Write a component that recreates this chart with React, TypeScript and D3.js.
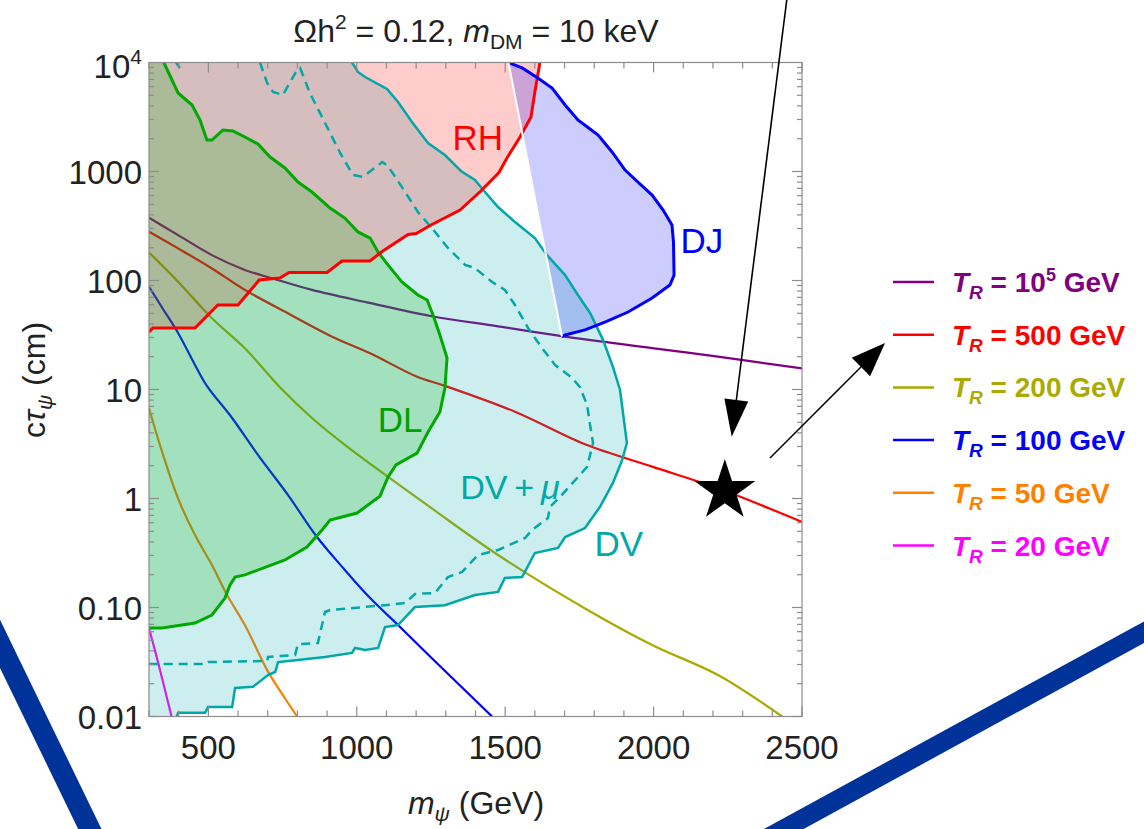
import React, { useEffect, useRef } from "react";
import * as d3 from "d3";

const W = 1144, H = 829;

// reheating temperature curves, [m_psi (GeV), c tau (cm)]
const trHigh = [[300, 377], [398, 261], [512, 171], [623, 125], [714, 105], [849, 82], [1034, 63], [1253, 47], [1476, 38], [1702, 30.5], [1995, 24], [2217, 20], [2500, 15.6]];
const tr500 = [[300, 280], [398, 197], [512, 129], [623, 82], [768, 50], [917, 30.5], [1045, 21.5], [1203, 13.1], [1297, 10.8], [1533, 6.25], [1769, 3.14], [1995, 1.96], [2217, 1.24], [2500, 0.61]];
const tr200 = [[300, 181], [398, 97.5], [512, 45], [623, 23.9], [741, 10.5], [849, 5.48], [960, 3.1], [1028, 2.25], [1253, 0.81], [1476, 0.303], [1769, 0.098], [1995, 0.0453], [2217, 0.024], [2433, 0.01]];
const tr100 = [[300, 87.7], [347, 54.8], [398, 33], [455, 16.8], [495, 10.8], [580, 5.48], [667, 2.51], [768, 1.08], [866, 0.443], [960, 0.221], [1045, 0.122], [1139, 0.069], [1253, 0.0342], [1456, 0.01]];
const tr50 = [[300, 6.72], [344, 2.69], [398, 1.0], [455, 0.462], [512, 0.245], [563, 0.13], [623, 0.069], [701, 0.0258], [758, 0.0147], [799, 0.01]];
const tr20 = [[300, 0.0644], [330, 0.0318], [376, 0.01]];

const legendValues = ["10^5", "500", "200", "100", "50", "20"];
const legendColors = ["#800080", "#ff0000", "#aaaa00", "#0000ff", "#ff8000", "#ff00ff"];

// excluded / sensitivity regions
const dvEdge = [[984, 1e4], [1004, 8185], [1028, 7360], [1102, 5710], [1139, 4342], [1186, 2845], [1240, 1826], [1297, 1416], [1351, 1011], [1398, 836], [1432, 648], [1476, 472], [1533, 344], [1600, 245], [1641, 171], [1702, 112], [1745, 73.6], [1786, 50.4], [1830, 28.4], [1863, 16.1], [1887, 9.9], [1910, 3.23], [1894, 2.25], [1863, 1.39], [1819, 0.836], [1769, 0.536], [1702, 0.443], [1678, 0.352], [1600, 0.316], [1557, 0.19], [1499, 0.187], [1476, 0.139], [1398, 0.13], [1297, 0.105], [1196, 0.101], [1139, 0.069], [1095, 0.0662], [1072, 0.0425], [1028, 0.0407], [994, 0.0425], [984, 0.0383], [893, 0.0352], [802, 0.033], [735, 0.0316], [725, 0.0256], [701, 0.024], [650, 0.0187], [590, 0.0183], [580, 0.0122], [499, 0.0122], [489, 0.0108], [398, 0.0108], [394, 0.01]];
const dvMuEdge = [[674, 1e4], [698, 6486], [718, 5360], [751, 5035], [799, 8537], [809, 8910], [842, 5250], [900, 2560], [944, 1479], [987, 929], [1021, 891], [1086, 1222], [1105, 1123], [1163, 648], [1206, 425], [1253, 303], [1307, 199], [1365, 139], [1398, 130], [1456, 96.9], [1499, 81.8], [1533, 59.6], [1577, 36.7], [1624, 24], [1668, 16.8], [1725, 12.8], [1752, 10.5], [1776, 7.2], [1786, 4.72], [1796, 3.23], [1776, 1.95], [1745, 1.57], [1691, 1.08], [1651, 0.836], [1644, 0.662], [1590, 0.514], [1567, 0.434], [1476, 0.337], [1408, 0.303], [1355, 0.212], [1307, 0.19], [1264, 0.136], [1196, 0.133], [1163, 0.11], [1095, 0.105], [910, 0.0948], [893, 0.091], [869, 0.0472], [802, 0.0462], [792, 0.0367], [701, 0.0352], [698, 0.0323], [499, 0.0316], [492, 0.0303], [300, 0.0303]];
const dvMuTop = [[391, 1e4], [404, 8900]];
const dlEdge = [[350, 1e4], [398, 5250], [445, 4075], [472, 2967], [495, 1945], [512, 1945], [549, 2402], [583, 2353], [623, 2073], [667, 1787], [708, 1358], [758, 1077], [802, 801], [849, 648], [910, 462], [960, 374], [1004, 279], [1045, 245], [1072, 182], [1105, 139], [1152, 97], [1206, 73.6], [1237, 66.2], [1257, 48.2], [1280, 31.6], [1304, 19.5], [1297, 10.3], [1280, 6.22], [1240, 4.07], [1203, 2.61], [1132, 2.03], [1105, 1.57], [1078, 1.05], [1001, 0.736], [910, 0.635], [883, 0.514], [832, 0.359], [758, 0.273], [623, 0.199], [590, 0.19], [573, 0.161], [556, 0.122], [512, 0.0853], [455, 0.0721], [344, 0.0649], [300, 0.0649]];
const rhEdge = [[300, 33.7], [313, 36.7], [455, 36.7], [532, 59.6], [600, 59.6], [671, 101], [741, 105.4], [772, 118.4], [900, 118.4], [950, 151], [1044, 151], [1088, 186.6], [1173, 264], [1200, 270], [1250, 323], [1348, 443], [1418, 662], [1479, 979], [1506, 1330], [1550, 2073], [1587, 3162], [1600, 5360], [1617, 1e4]];
const djEdge = [[1511, 1e4], [1557, 8910], [1610, 7207], [1658, 5834], [1702, 4075], [1745, 2967], [1786, 2455], [1813, 2162], [1860, 1510], [1904, 1032], [1947, 801], [1995, 608], [2032, 443], [2062, 323], [2067, 225], [2069, 112], [2055, 91], [1995, 69], [1914, 51.4], [1836, 41.6], [1769, 35.2], [1702, 31.6], [1691, 30.6]];

const regionLabels = [
  { text: "RH", m: 1408, c: 2070, color: "#ff0000" },
  { text: "DJ", m: 2163, c: 235, color: "#0000ff" },
  { text: "DL", m: 1146, c: 5.36, color: "#00a000" },
  { text: "DV", m: 1883, c: 0.39, color: "#00a8a8" },
];
const benchmark = [2240, 1.25];

const yTickValues = [0.01, 0.1, 1, 10, 100, 1000, 1e4];
const yTickLabels = ["0.01", "0.10", "1", "10", "100", "1000", "10^4"];
const xTickValues = [500, 1000, 1500, 2000, 2500];

const FONT = "'Liberation Sans', Arial, Helvetica, sans-serif";

export default function App() {
  const ref = useRef<SVGSVGElement>(null);

  useEffect(() => {
    const svg = d3.select(ref.current);
    svg.selectAll("*").remove();

    const x = d3.scaleLinear().domain([300, 2500]).range([149, 802]);
    const y = d3.scaleLog().domain([0.01, 1e4]).range([716.5, 62.5]);
    const line = d3.line<number[]>().x(d => x(d[0])).y(d => y(d[1]));
    const smooth = d3.line<number[]>().x(d => x(d[0])).y(d => y(d[1])).curve(d3.curveCatmullRom.alpha(0.5));
    const [left, right] = x.range();
    const [bottom, top] = y.range();

    svg.append("rect").attr("width", W).attr("height", H).attr("fill", "white");
    svg.append("defs").append("clipPath").attr("id", "plotclip")
      .append("rect").attr("x", left).attr("y", top).attr("width", right - left).attr("height", bottom - top);

    const plot = svg.append("g").attr("clip-path", "url(#plotclip)");

    // T_R curves under the shaded regions
    [trHigh, tr500, tr200, tr100, tr50, tr20].forEach((c, i) => {
      plot.append("path").attr("d", smooth(c)).attr("fill", "none")
        .attr("stroke", legendColors[i]).attr("stroke-width", 2.2);
    });

    // region fills
    const fills: [number[][], string][] = [
      [[...dvEdge, [300, 0.01], [300, 1e4]], "rgba(0,170,170,0.2)"],
      [[...rhEdge, [300, 1e4]], "rgba(255,0,0,0.2)"],
      [[...dlEdge, [300, 1e4]], "rgba(0,170,0,0.2)"],
      [djEdge, "rgba(0,0,255,0.2)"],
    ];
    fills.forEach(([pts, col]) => {
      plot.append("path").attr("d", line(pts) + "Z").attr("fill", col).attr("stroke", "none");
    });

    // region boundaries
    plot.append("path").attr("d", line(dvEdge)).attr("fill", "none").attr("stroke", "#00a8a8").attr("stroke-width", 2.5);
    [dvMuEdge, dvMuTop].forEach(p => {
      plot.append("path").attr("d", line(p)).attr("fill", "none").attr("stroke", "#00a8a8")
        .attr("stroke-width", 2.5).attr("stroke-dasharray", "9,6");
    });
    plot.append("path").attr("d", line(dlEdge)).attr("fill", "none").attr("stroke", "#00a800").attr("stroke-width", 3);
    plot.append("path").attr("d", line(rhEdge)).attr("fill", "none").attr("stroke", "#ff0000").attr("stroke-width", 3);
    plot.append("path").attr("d", line(djEdge)).attr("fill", "none").attr("stroke", "#0000ff").attr("stroke-width", 3);
    plot.append("path").attr("d", line([djEdge[djEdge.length - 1], djEdge[0]])).attr("fill", "none")
      .attr("stroke", "white").attr("stroke-width", 2);

    // region labels
    regionLabels.forEach(l => {
      plot.append("text").attr("x", x(l.m)).attr("y", y(l.c)).attr("dy", "0.36em")
        .attr("text-anchor", "middle").attr("font-family", FONT).attr("font-size", 35)
        .attr("fill", l.color).text(l.text);
    });
    const dvmu = plot.append("text").attr("x", x(1516)).attr("y", y(1.28)).attr("dy", "0.36em")
      .attr("text-anchor", "middle").attr("font-family", FONT).attr("font-size", 34).attr("fill", "#00a8a8");
    dvmu.append("tspan").text("DV\u2009+\u2009");
    dvmu.append("tspan").attr("font-style", "italic").text("\u03bc");

    // benchmark star
    const star = d3.symbol().type(d3.symbolStar).size(1150);
    svg.append("path").attr("d", star()).attr("transform", `translate(${x(benchmark[0])},${y(benchmark[1]) + 3})`).attr("fill", "black");

    // frame and ticks
    const tickCol = "#8c8c8c";
    const axes = svg.append("g").attr("stroke", tickCol).attr("stroke-width", 1.2);
    axes.append("rect").attr("x", left).attr("y", top).attr("width", right - left).attr("height", bottom - top).attr("fill", "none");
    d3.range(300, 2501, 100).forEach(v => {
      const len = v % 500 === 0 ? 10 : 6;
      axes.append("line").attr("x1", x(v)).attr("x2", x(v)).attr("y1", bottom).attr("y2", bottom - len);
      axes.append("line").attr("x1", x(v)).attr("x2", x(v)).attr("y1", top).attr("y2", top + len);
    });
    d3.range(-2, 4).forEach(e => {
      d3.range(1, 10).forEach(k => {
        const v = k * Math.pow(10, e);
        const len = k === 1 ? 10 : 5;
        axes.append("line").attr("x1", left).attr("x2", left + len).attr("y1", y(v)).attr("y2", y(v));
        axes.append("line").attr("x1", right).attr("x2", right - len).attr("y1", y(v)).attr("y2", y(v));
      });
    });

    // tick labels
    const txt = svg.append("g").attr("font-family", FONT).attr("fill", "#222");
    xTickValues.forEach(v => {
      txt.append("text").attr("x", x(v)).attr("y", 759).attr("text-anchor", "middle").attr("font-size", 33).text(String(v));
    });
    yTickValues.forEach((v, i) => {
      const t = txt.append("text").attr("x", 142).attr("y", y(v) + 12).attr("text-anchor", "end").attr("font-size", 33);
      const lab = yTickLabels[i];
      if (lab.includes("^")) {
        const [b, p] = lab.split("^");
        t.attr("y", y(v) + 15);
        t.append("tspan").text(b);
        t.append("tspan").attr("dy", -14).attr("font-size", 21).text(p);
      } else {
        t.text(lab);
      }
    });

    // title
    const title = txt.append("text").attr("x", 476).attr("y", 42).attr("text-anchor", "middle").attr("font-size", 32);
    title.append("tspan").text("\u03a9h");
    title.append("tspan").attr("dy", -13).attr("font-size", 21).text("2");
    title.append("tspan").attr("dy", 13).text(" = 0.12, ");
    title.append("tspan").attr("font-style", "italic").text("m");
    title.append("tspan").attr("dy", 7).attr("font-size", 21).text("DM");
    title.append("tspan").attr("dy", -7).text(" = 10 keV");

    // axis titles
    const xl = txt.append("text").attr("x", 476).attr("y", 814).attr("text-anchor", "middle").attr("font-size", 32);
    xl.append("tspan").attr("font-style", "italic").text("m");
    xl.append("tspan").attr("dy", 7).attr("font-size", 21).attr("font-style", "italic").text("\u03c8");
    xl.append("tspan").attr("dy", -7).text(" (GeV)");

    const yl = txt.append("text").attr("transform", "translate(45,380) rotate(-90)").attr("text-anchor", "middle").attr("font-size", 32);
    yl.append("tspan").text("c");
    yl.append("tspan").attr("font-style", "italic").text("\u03c4");
    yl.append("tspan").attr("dy", 7).attr("font-size", 21).attr("font-style", "italic").text("\u03c8");
    yl.append("tspan").attr("dy", -7).text(" (cm)");

    // legend
    const lg = svg.append("g").attr("font-family", FONT).attr("font-weight", "bold");
    legendValues.forEach((v, i) => {
      const ly = 282 + i * 52.7;
      lg.append("line").attr("x1", 893).attr("x2", 934).attr("y1", ly).attr("y2", ly)
        .attr("stroke", legendColors[i]).attr("stroke-width", 2.5);
      const t = lg.append("text").attr("x", 952).attr("y", ly + 10).attr("font-size", 28).attr("fill", legendColors[i]);
      t.append("tspan").attr("font-style", "italic").text("T");
      t.append("tspan").attr("font-style", "italic").attr("font-size", 19).attr("dy", 7).text("R");
      if (v.includes("^")) {
        const [b, p] = v.split("^");
        t.append("tspan").attr("dy", -7).text(` = ${b}`);
        t.append("tspan").attr("dy", -11).attr("font-size", 18).text(p);
        t.append("tspan").attr("dy", 11).text(" GeV");
      } else {
        t.append("tspan").attr("dy", -7).text(` = ${v} GeV`);
      }
    });

    // slide annotations: arrows
    const arrow = (x1: number, y1: number, x2: number, y2: number, len: number, wid: number) => {
      const a = Math.atan2(y2 - y1, x2 - x1);
      const bx = x2 - len * Math.cos(a), by = y2 - len * Math.sin(a);
      const px = -Math.sin(a) * wid / 2, py = Math.cos(a) * wid / 2;
      svg.append("line").attr("x1", x1).attr("y1", y1).attr("x2", bx).attr("y2", by).attr("stroke", "black").attr("stroke-width", 1.6);
      svg.append("path").attr("d", `M${x2},${y2}L${bx + px},${by + py}L${bx - px},${by - py}Z`).attr("fill", "black");
    };
    arrow(787, -2, 731.7, 436.7, 37, 24);
    arrow(770, 458, 885, 343, 34, 26);

    // slide decoration bands
    svg.append("line").attr("x1", -15).attr("y1", 613).attr("x2", 100).attr("y2", 850)
      .attr("stroke", "#003399").attr("stroke-width", 21);
    svg.append("line").attr("x1", 1170).attr("y1", 618).attr("x2", 760).attr("y2", 842)
      .attr("stroke", "#003399").attr("stroke-width", 19);
  }, []);

  return <svg ref={ref} width={W} height={H} style={{ position: "absolute", left: 0, top: 0 }} />;
}
